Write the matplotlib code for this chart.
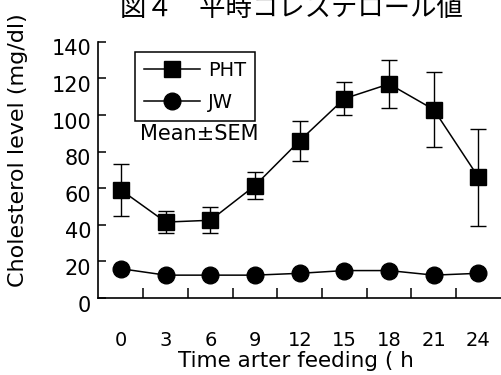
import matplotlib
matplotlib.use("Agg")
import matplotlib.pyplot as plt
import matplotlib.transforms as mtransforms
import numpy as np

plt.rcParams["font.family"] = ["DejaVu Sans", "Noto Sans CJK JP"]

hours = [0, 3, 6, 9, 12, 15, 18, 21, 24]
pht_mean = [59, 41.5, 42.5, 61.5, 86, 109, 117, 103, 66]
pht_sem = [14, 6, 7, 7.5, 11, 9, 13, 20.5, 26.5]
jw_mean = [16, 12.5, 12.5, 12.5, 13.5, 15, 15, 12.5, 13.5]
jw_sem = [3, 2.5, 2.5, 2.5, 2.5, 2.5, 2.5, 2.5, 2.5]
y_ticks = [0, 20, 40, 60, 80, 100, 120, 140]

fig = plt.figure(figsize=(5.01, 3.75), dpi=100)
ax = fig.add_axes([0.1956, 0.2053, 0.804, 0.683])

pht = ax.errorbar(hours, pht_mean, yerr=pht_sem, color="black", marker="s", ms=12,
                  lw=1.1, capsize=6, elinewidth=1.0, capthick=1.0)
jw = ax.errorbar(hours, jw_mean, yerr=jw_sem, color="black", marker="o", ms=12,
                 lw=1.1, capsize=4, elinewidth=1.0, capthick=1.0)

ax.set_xlim(-1.55, 25.5)
ax.set_ylim(0, 140)
ax.spines["top"].set_visible(False)
ax.spines["right"].set_visible(False)
for s in ("left", "bottom"):
    ax.spines[s].set_linewidth(1.2)

ax.set_yticks(y_ticks)
ax.tick_params(axis="y", direction="in", length=6, width=1.1, labelsize=15, pad=5)
# labels in the scan sit a little below their ticks
shift = mtransforms.ScaledTranslation(0, -4 / 72, fig.dpi_scale_trans)
for lab in ax.get_yticklabels():
    lab.set_transform(lab.get_transform() + shift)

ax.set_xticks(hours)
ax.set_xticks(np.array(hours[:-1]) + 1.5, minor=True)
ax.tick_params(axis="x", which="major", length=0, labelsize=14, pad=24)
ax.tick_params(axis="x", which="minor", direction="in", length=7, width=1.1)

fig.text(296 / 501, 8 / 375, "Time arter feeding ( h", ha="center",
         va="baseline", fontsize=15.5)
fig.text(0.036, 1 - 150 / 375, "Cholesterol level (mg/dl)", rotation=90,
         ha="center", va="center", fontsize=16)

leg = ax.legend([pht[0], jw[0]], ["PHT", "JW"], loc="upper left",
                bbox_to_anchor=(0.092, 0.961), borderaxespad=0,
                fontsize=14, handlelength=2.9, fancybox=False, framealpha=1,
                edgecolor="black", borderpad=0.45, labelspacing=0.7,
                handletextpad=0.4)
leg.get_frame().set_linewidth(1.1)

ax.text(0.104, 0.64, "Mean\u00b1SEM", transform=ax.transAxes, fontsize=15,
        ha="left", va="center")

fig.text(0.581, 1 - 16 / 375, "図４　平時コレステロール値", ha="center",
         va="baseline", fontsize=19, family=["Noto Sans CJK JP", "DejaVu Sans"])

fig.savefig("out.png", dpi=100)
